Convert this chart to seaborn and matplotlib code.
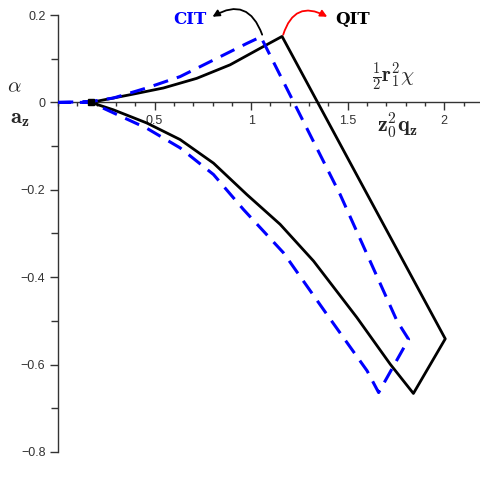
"""Stability diagram of QIT and CIT traps (alpha / a_z against chi / q_z)."""

import matplotlib
matplotlib.use("Agg")
import matplotlib.pyplot as plt
import pandas as pd
import seaborn as sns
from matplotlib.ticker import MultipleLocator

# QIT boundary (black solid), traced as a closed loop
qit_x = [0.17, 0.373, 0.546, 0.718, 0.891, 1.064, 1.16, 1.565, 2.005, 1.84,
         1.72, 1.547, 1.323, 1.15, 0.978, 0.805, 0.632, 0.459, 0.287, 0.17]
qit_y = [0.0, 0.0175, 0.033, 0.055, 0.086, 0.128, 0.151, -0.181, -0.541, -0.666,
         -0.599, -0.492, -0.363, -0.279, -0.211, -0.139, -0.085, -0.047, -0.017, 0.0]

# CIT boundary (blue dashed)
cit_x = [0.0, 0.17, 0.287, 0.459, 0.632, 0.805, 0.978, 1.05, 1.461, 1.755, 1.815,
         1.66, 1.60, 1.392, 1.167, 0.96, 0.805, 0.632, 0.459, 0.287, 0.17, 0.0]
cit_y = [0.0, 0.002, 0.010, 0.033, 0.059, 0.097, 0.135, 0.150, -0.211, -0.50, -0.542,
         -0.664, -0.614, -0.485, -0.344, -0.245, -0.165, -0.104, -0.059, -0.024, 0.0, 0.0]

x_major = [0.5, 1, 1.5, 2]
y_major = [-0.8, -0.6, -0.4, -0.2, 0, 0.2]

sns.set_style("white")
plt.rcParams["mathtext.fontset"] = "cm"

fig = plt.figure(figsize=(4.81, 4.93), dpi=100)
ax = fig.add_axes([58 / 481, 41 / 493, 423 / 481, 437 / 493])

qit = pd.DataFrame({"x": qit_x, "y": qit_y})
cit = pd.DataFrame({"x": cit_x, "y": cit_y})
sns.lineplot(data=qit, x="x", y="y", sort=False, estimator=None, color="black",
             linewidth=2.0, ax=ax, zorder=3)
sns.lineplot(data=cit, x="x", y="y", sort=False, estimator=None, color="#0000ff",
             linewidth=2.2, linestyle=(0, (5, 3)), ax=ax, zorder=4)
ax.plot([qit_x[0]], [qit_y[0]], marker="s", color="black", markersize=5, zorder=5)

ax.set_xlim(0, 2.19)
ax.set_ylim(-0.8, 0.2)
ax.set_xlabel("")
ax.set_ylabel("")

for side in ["top", "right"]:
    ax.spines[side].set_visible(False)
ax.spines["bottom"].set_position(("data", 0))
for side in ["left", "bottom"]:
    ax.spines[side].set_color("#333333")
    ax.spines[side].set_linewidth(1.0)

ax.set_xticks(x_major)
ax.set_xticklabels(["0.5", "1", "1.5", "2"])
ax.set_yticks(y_major)
ax.set_yticklabels(["\u22120.8", "\u22120.6", "\u22120.4", "\u22120.2", "0", "0.2"])
ax.xaxis.set_minor_locator(MultipleLocator(0.1))
ax.yaxis.set_minor_locator(MultipleLocator(0.1))
ax.tick_params(axis="both", which="both", bottom=True, left=True, direction="out",
               color="#333333", width=1)
ax.tick_params(axis="both", which="major", length=6, labelsize=9,
               labelcolor="#333333", pad=3)
ax.tick_params(axis="x", which="minor", length=3)
ax.tick_params(axis="y", which="minor", length=5)
for lab in ax.get_xticklabels() + ax.get_yticklabels():
    lab.set_family(["Liberation Sans", "DejaVu Sans"])

# axis captions
ax.text(-0.228, 0.037, r"$\alpha$", fontsize=15, ha="center", va="center", clip_on=False)
ax.text(-0.197, -0.039, r"$\mathbf{a_z}$", fontsize=16, ha="center", va="center", clip_on=False)
ax.text(1.736, 0.059, r"$\frac{\mathbf{1}}{\mathbf{2}}\mathbf{r}_\mathbf{1}^\mathbf{2}\chi$",
        fontsize=15, ha="center", va="center")
ax.text(1.76, -0.055, r"$\mathbf{z_0^2 q_z}$", fontsize=16, ha="center", va="center")

# trap labels with curved arrows
ax.text(0.684, 0.19, "CIT", color="#0000ff", fontsize=12, fontweight="bold",
        family="DejaVu Serif", ha="center", va="center")
ax.text(1.523, 0.19, "QIT", color="black", fontsize=12, fontweight="bold",
        family="DejaVu Serif", ha="center", va="center")
ax.annotate("", xy=(0.80, 0.196), xytext=(1.057, 0.155),
            arrowprops=dict(arrowstyle="-|>", color="black", lw=1.3,
                            connectionstyle="arc3,rad=0.6", shrinkA=0, shrinkB=0),
            annotation_clip=False)
ax.annotate("", xy=(1.394, 0.196), xytext=(1.166, 0.155),
            arrowprops=dict(arrowstyle="-|>", color="red", lw=1.3,
                            connectionstyle="arc3,rad=-0.6", shrinkA=0, shrinkB=0),
            annotation_clip=False)

fig.savefig("out.png", dpi=100)
